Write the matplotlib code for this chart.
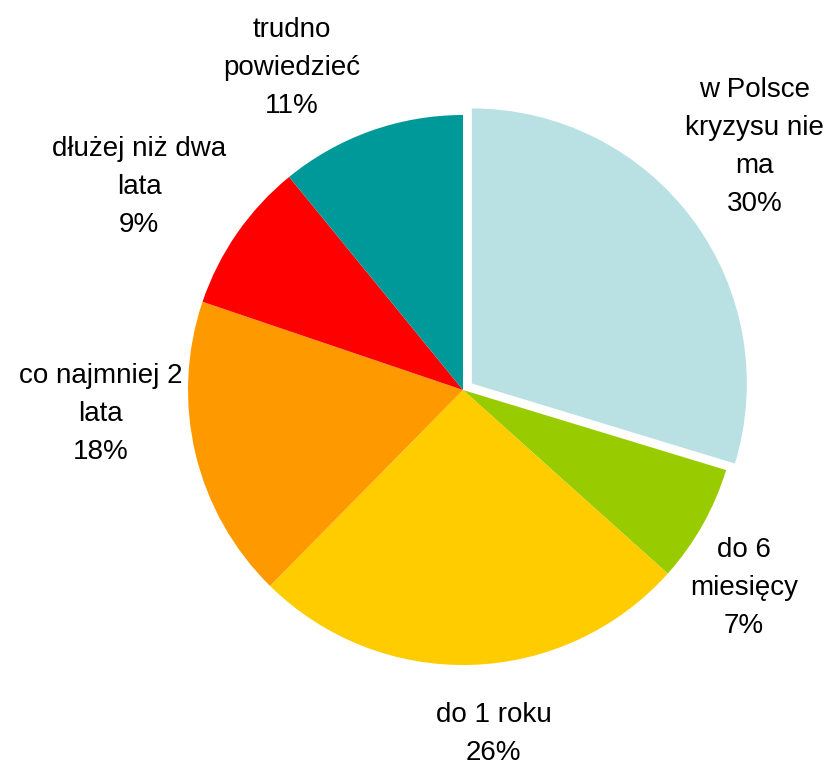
import numpy as np
import matplotlib.pyplot as plt

# data
labels = ['w Polsce\nkryzysu nie\nma', 'do 6\nmiesięcy', 'do 1 roku',
          'co najmniej 2\nlata', 'dłużej niż dwa\nlata', 'trudno\npowiedzieć']
values = [30, 7, 26, 18, 9, 11]
colors = ['#B9E0E3', '#99CC00', '#FFCC00', '#FF9900', '#FF0000', '#009999']
explode = [0.04, 0, 0, 0, 0, 0]

# label placement (radial distance, angle tweak in degrees)
label_r = [1.38, 1.25, 1.255, 1.32, 1.39, 1.325]
label_dt = [3.3, -5.8, 3.3, -9.5, 2.7, 8.4]

plt.rcParams['font.family'] = ['Liberation Sans', 'DejaVu Sans']

fig = plt.figure(figsize=(8.32, 7.68), dpi=100)
ax = fig.add_axes([0, 0, 1, 1])

wedges, _ = ax.pie(values, colors=colors, explode=explode, startangle=90,
                   counterclock=False, radius=1.0,
                   wedgeprops=dict(linewidth=0))

for w, lab, v, r, dt in zip(wedges, labels, values, label_r, label_dt):
    mid = np.deg2rad((w.theta1 + w.theta2) / 2 + dt)
    ax.text(r * np.cos(mid), r * np.sin(mid), f'{lab}\n{v}%',
            ha='center', va='center', fontsize=20, linespacing=1.6)

# center of pie at (463, 390) px, radius 275 px
ax.set_xlim(-463 / 275, (832 - 463) / 275)
ax.set_ylim(-(768 - 390) / 275, 390 / 275)
ax.set_aspect('equal')
ax.axis('off')

fig.savefig('out.png', dpi=100)
